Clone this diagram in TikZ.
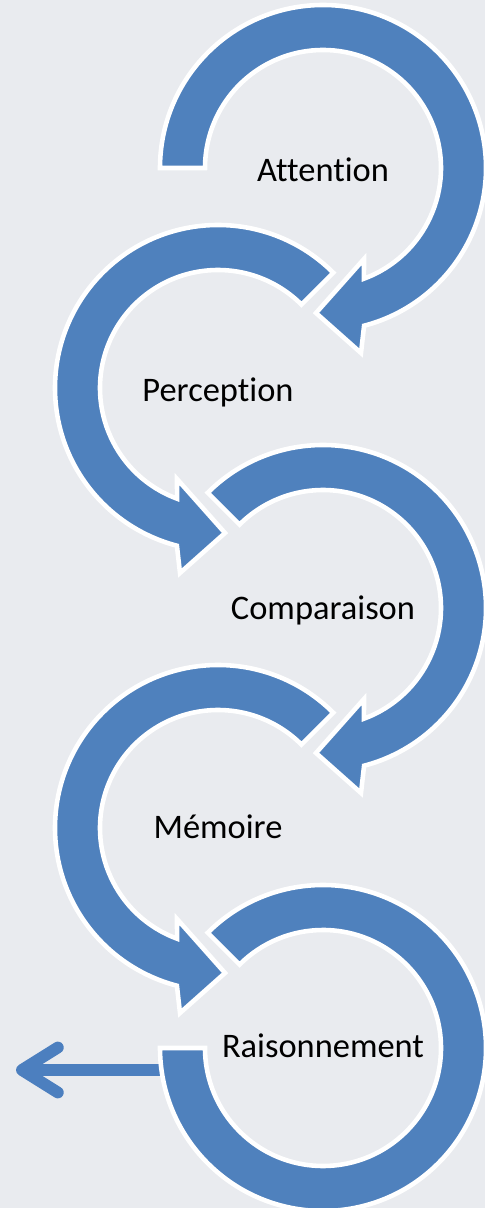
\documentclass[tikz,border=0pt]{standalone}
\usepackage{fontspec}
\setmainfont{Carlito}[Ligatures=NoCommon]
\usetikzlibrary{arrows.meta}
\definecolor{ringblue}{RGB}{79,129,189}
\definecolor{lineblue}{RGB}{76,127,191}
\definecolor{bggray}{RGB}{233,235,239}
\begin{document}
\begin{tikzpicture}[x=0.02cm,y=0.02cm,
  ring/.style={fill=ringblue,draw=white,line width=2.6pt,line join=miter},
  shaft/.style={draw=lineblue,line width=0.235cm,line cap=round},
  lbl/.style={font=\fontsize{19.6}{23}\selectfont,anchor=base}]
% Background
\fill[bggray] (0,0) rectangle (485,1208);
\useasboundingbox (0,0) rectangle (485,1208);
% Attention
\begin{scope}[shift={(323,1040)}]
\draw[ring] (180:163) arc[start angle=180,end angle=-75.4,radius=163] -- (38,-185) -- (-7,-145) -- (41,-91) -- (-69.7:118) arc[start angle=-69.7,end angle=180,radius=118] -- cycle;
\end{scope}
% Perception
\begin{scope}[shift={(218,820)},xscale=-1]
\draw[ring] (135:163) arc[start angle=135,end angle=-75.4,radius=163] -- (38,-185) -- (-7,-145) -- (41,-91) -- (-69.7:118) arc[start angle=-69.7,end angle=135,radius=118] -- cycle;
\end{scope}
% Comparaison
\begin{scope}[shift={(323,600)}]
\draw[ring] (135:163) arc[start angle=135,end angle=-75.4,radius=163] -- (38,-185) -- (-7,-145) -- (41,-91) -- (-69.7:118) arc[start angle=-69.7,end angle=135,radius=118] -- cycle;
\end{scope}
% Memoire
\begin{scope}[shift={(218,380)},xscale=-1]
\draw[ring] (135:163) arc[start angle=135,end angle=-75.4,radius=163] -- (38,-185) -- (-7,-145) -- (41,-91) -- (-69.7:118) arc[start angle=-69.7,end angle=135,radius=118] -- cycle;
\end{scope}
% Raisonnement, leaving arrow
\coordinate (rend) at (170,138);
\coordinate (out) at (16,138);
\draw[shaft,-{Straight Barb[length=0.72cm,width=0.9cm,round]}] (rend) -- (out);
\begin{scope}[shift={(323,160)}]
\draw[ring] (135:163) arc[start angle=135,end angle=-180,radius=163] -- (180:118) arc[start angle=-180,end angle=135,radius=118] -- cycle;
\end{scope}
% Labels
\node[lbl] (att) at (323,1026) {Attention};
\node[lbl] (perc) at (218,806) {Perception};
\node[lbl] (comp) at (323,588) {Comparaison};
\node[lbl] (mem) at (218,369) {Mémoire};
\node[lbl] (rais) at (323,150) {Raisonnement};
\end{tikzpicture}
\end{document}
